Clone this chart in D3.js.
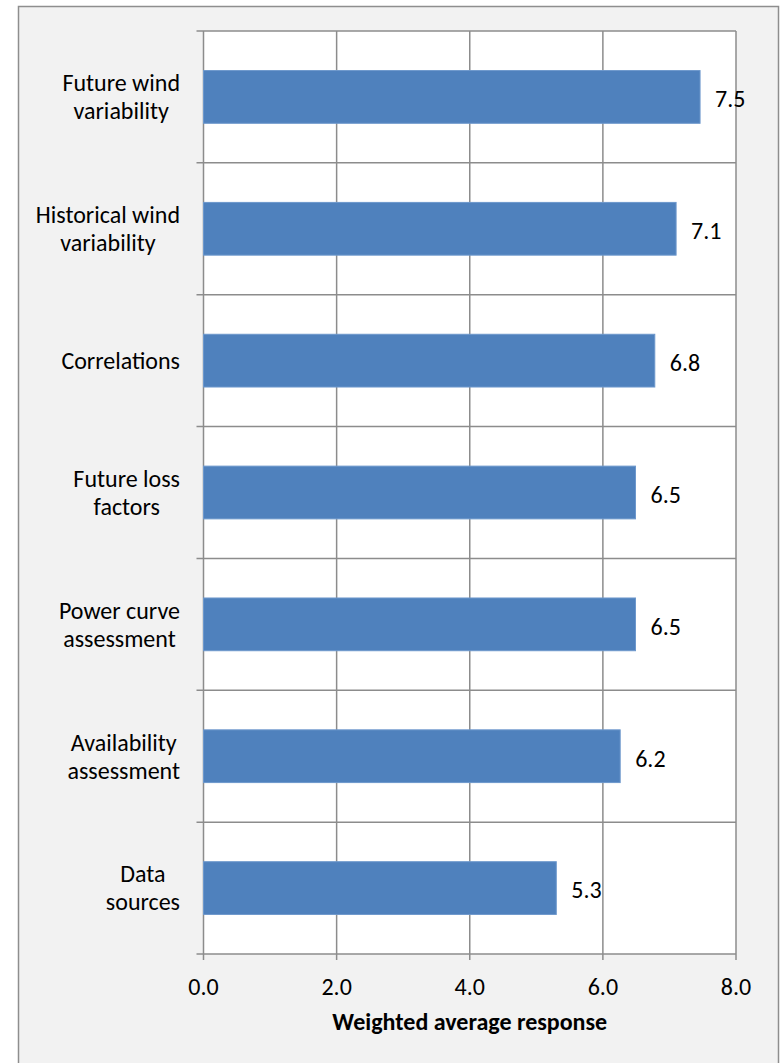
<!DOCTYPE html>
<html>
<head>
<meta charset="utf-8">
<script src="https://cdn.jsdelivr.net/npm/d3@7"></script>
<style>
  body { margin: 0; background: #ffffff; }
  text { font-family: Carlito, Calibri, Lato, sans-serif; fill: #000; }
</style>
</head>
<body>
<div id="chart"></div>
<script>
// categories top to bottom, each label split into its two lines
const categories = ["Future wind variability", "Historical wind variability", "Correlations",
    "Future loss factors", "Power curve assessment", "Availability assessment", "Data sources"];
const labelLines = [["Future wind", "variability"], ["Historical wind", "variability"], ["Correlations"],
    ["Future loss", "factors"], ["Power curve", "assessment"], ["Availability", "assessment"], ["Data", "sources"]];
const values = [7.46, 7.1, 6.78, 6.49, 6.49, 6.26, 5.3];
const valueLabels = ["7.5", "7.1", "6.8", "6.5", "6.5", "6.2", "5.3"];
const xTicks = [0, 2, 4, 6, 8];

const W = 781, H = 1063;
const margin = {top: 31, right: 45, bottom: 109, left: 203.5};
const width = 736 - margin.left;
const height = 954 - margin.top;
const fontSize = 24;

const svg = d3.select("#chart").append("svg")
    .attr("width", W)
    .attr("height", H);

// chart area background
svg.append("rect")
    .attr("x", 18.5).attr("y", 6.5)
    .attr("width", 760).attr("height", H + 20)
    .attr("fill", "#f2f2f2")
    .attr("stroke", "#8e8e8e")
    .attr("stroke-width", 1.5);

const g = svg.append("g")
    .attr("transform", `translate(${margin.left},${margin.top})`);

const x = d3.scaleLinear().domain([0, 8]).range([0, width]);
const y = d3.scaleBand().domain(categories).range([0, height]).paddingInner(0.6).paddingOuter(0.3);

// plot area
g.append("rect")
    .attr("width", width).attr("height", height)
    .attr("fill", "#ffffff");

const gridColor = "#8c8c8c";

// vertical gridlines
g.selectAll(".vgrid")
    .data(xTicks)
    .enter().append("line")
    .attr("x1", d => x(d)).attr("x2", d => x(d))
    .attr("y1", 0).attr("y2", height + 6)
    .attr("stroke", gridColor).attr("stroke-width", 1.5);

// horizontal lines at category boundaries, with ticks extending left
const step = y.step();
const bounds = d3.range(categories.length + 1).map(i => i * step);
g.selectAll(".hgrid")
    .data(bounds)
    .enter().append("line")
    .attr("x1", -7).attr("x2", width)
    .attr("y1", d => d).attr("y2", d => d)
    .attr("stroke", gridColor).attr("stroke-width", 1.5);

// bars
g.selectAll(".bar")
    .data(values)
    .enter().append("rect")
    .attr("x", 0)
    .attr("y", (d, i) => y(categories[i]))
    .attr("width", d => x(d))
    .attr("height", y.bandwidth())
    .attr("fill", "#4f81bd")
    .attr("stroke", "#6d98cc")
    .attr("stroke-width", 1);

// value labels
g.selectAll(".vlabel")
    .data(values)
    .enter().append("text")
    .attr("x", d => x(d) + 15)
    .attr("y", (d, i) => y(categories[i]) + y.bandwidth() / 2 + 2)
    .attr("dy", "0.35em")
    .style("font-size", fontSize + "px")
    .text((d, i) => valueLabels[i]);

// category labels: lines centred on each other, block right-aligned
const lineH = 28;
labelLines.forEach((lines, i) => {
    const cy = y(categories[i]) + y.bandwidth() / 2;
    const t = g.append("text")
        .attr("text-anchor", "middle")
        .style("font-size", fontSize + "px");
    lines.forEach((ln, j) => {
        t.append("tspan")
            .attr("y", cy + (j - (lines.length - 1) / 2) * lineH)
            .attr("dy", "0.35em")
            .text(ln);
    });
    let maxW = 0;
    t.selectAll("tspan").each(function() { maxW = Math.max(maxW, this.getComputedTextLength()); });
    t.selectAll("tspan").attr("x", -23.5 - maxW / 2);
});

// x tick labels
g.selectAll(".xtick")
    .data(xTicks)
    .enter().append("text")
    .attr("x", d => x(d))
    .attr("y", height + 41)
    .attr("text-anchor", "middle")
    .style("font-size", fontSize + "px")
    .text(d => d3.format(".1f")(d));

// axis title
g.append("text")
    .attr("x", width / 2)
    .attr("y", height + 76)
    .attr("text-anchor", "middle")
    .style("font-size", "24px")
    .style("font-weight", "bold")
    .text("Weighted average response");
</script>
</body>
</html>
